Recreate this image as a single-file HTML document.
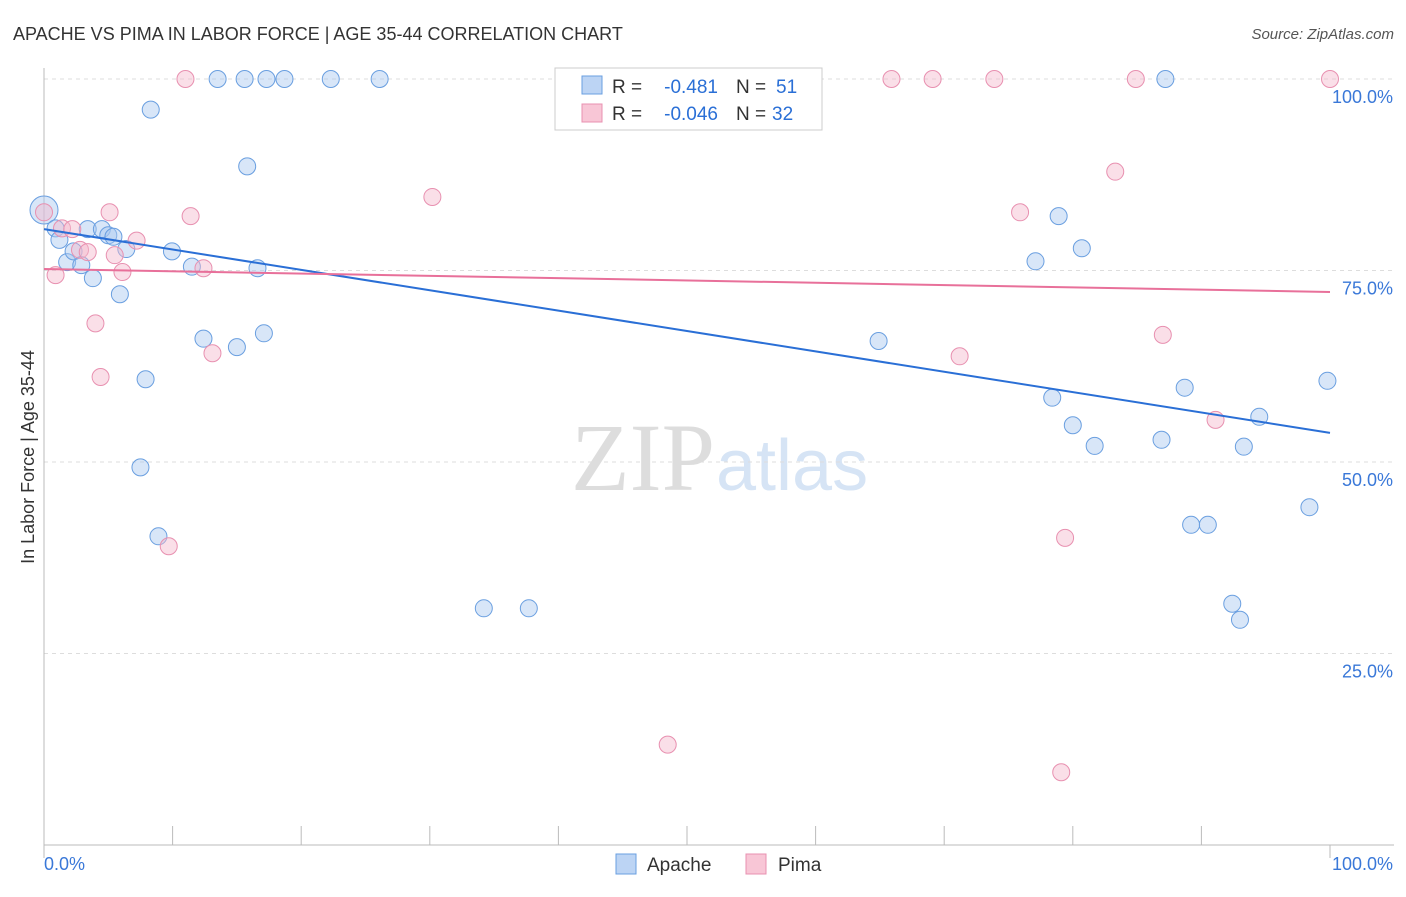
<!DOCTYPE html>
<html><head><meta charset="utf-8"><style>
body{margin:0;background:#fff;font-family:"Liberation Sans",sans-serif;}
</style></head><body>
<svg id="chart" width="1406" height="892" xmlns="http://www.w3.org/2000/svg">
<text x="13" y="40" font-size="18" fill="#333">APACHE VS PIMA IN LABOR FORCE | AGE 35-44 CORRELATION CHART</text>
<text x="1394" y="39" font-size="15" fill="#555" font-style="italic" text-anchor="end">Source: ZipAtlas.com</text>
<text x="715" y="490" font-size="96" fill="#ddd" text-anchor="end" font-family="Liberation Serif,serif">ZIP</text>
<text x="716" y="490" font-size="72" fill="#d6e4f5">atlas</text>
<g id="grid"></g>
<g id="axes"></g>
<text transform="translate(34,457) rotate(-90)" font-size="18" fill="#333" text-anchor="middle">In Labor Force | Age 35-44</text>
<g id="marks"></g>
<g>
<rect x="555" y="68" width="267" height="62" fill="#fff" stroke="#ccc"/>
<rect x="582" y="76" width="20" height="18" fill="#bcd4f4" stroke="#6a9fe0"/>
<text x="612" y="93" font-size="19" fill="#333">R =</text>
<text x="718" y="93" font-size="19" fill="#2a6fd6" text-anchor="end">-0.481</text>
<text x="736" y="93" font-size="19" fill="#333">N =</text>
<text x="776" y="93" font-size="19" fill="#2a6fd6">51</text>
<rect x="582" y="104" width="20" height="18" fill="#f8c6d6" stroke="#e890b0"/>
<text x="612" y="120" font-size="19" fill="#333">R =</text>
<text x="718" y="120" font-size="19" fill="#2a6fd6" text-anchor="end">-0.046</text>
<text x="736" y="120" font-size="19" fill="#333">N =</text>
<text x="772" y="120" font-size="19" fill="#2a6fd6">32</text>
</g>
<g>
<rect x="616" y="854" width="20" height="20" fill="#bcd4f4" stroke="#6a9fe0"/>
<text x="647" y="871" font-size="19" fill="#333">Apache</text>
<rect x="746" y="854" width="20" height="20" fill="#f8c6d6" stroke="#e890b0"/>
<text x="778" y="871" font-size="19" fill="#333">Pima</text>
</g>
</svg>
<script>
const yTicks=[25,50,75,100];
const yTickLabels=["25.0%","50.0%","75.0%","100.0%"];
const apacheX=[0,0.9,1.2,1.8,2.3,2.9,3.4,3.8,4.5,5.0,5.4,5.9,6.4,7.5,7.9,8.3,8.9,9.95,11.5,12.4,13.5,15.0,15.6,15.8,16.6,17.1,17.3,18.7,22.3,26.1,34.2,37.7,42.8,64.9,77.1,78.4,78.9,80.0,80.7,81.7,86.9,87.2,88.7,89.2,90.5,92.4,93.0,93.3,94.5,98.4,99.8];
const apacheY=[82.9,80.5,79.0,76.1,77.5,75.7,80.4,74.0,80.4,79.6,79.4,71.9,77.8,49.3,60.8,96.0,40.3,77.5,75.5,66.1,100,65.0,100,88.6,75.3,66.8,100,100,100,100,30.9,30.9,100,65.8,76.2,58.4,82.1,54.8,77.9,52.1,52.9,100,59.7,41.8,41.8,31.5,29.4,52.0,55.9,44.1,60.6];
const pimaX=[0,0.9,1.4,2.2,2.8,3.4,4.0,4.4,5.1,5.5,6.1,7.2,9.7,11.0,11.4,12.4,13.1,30.2,48.5,65.9,69.1,71.2,73.9,75.9,79.1,79.4,83.3,84.9,87.0,91.1,100];
const pimaY=[82.6,74.4,80.5,80.4,77.7,77.4,68.1,61.1,82.6,77.0,74.8,78.9,39.0,100,82.1,75.3,64.2,84.6,13.1,100,100,63.8,100,82.6,9.5,40.1,87.9,100,66.6,55.5,100];
const apacheTrend=[80.4,53.8];
const pimaTrend=[75.2,72.2];
const NS="http://www.w3.org/2000/svg";
const X0=44,X1=1330,Y0=845,Y100=79;
const xs=v=>X0+(X1-X0)*v/100;
const ys=v=>Y0-(Y0-Y100)*v/100;
function mk(tag,attrs,parent){const e=document.createElementNS(NS,tag);for(const k in attrs)e.setAttribute(k,attrs[k]);document.getElementById(parent).appendChild(e);return e;}
yTicks.forEach((t,i)=>{
 const g=mk('line',{x1:X0,x2:1394,y1:ys(t),y2:ys(t),stroke:'#ddd','stroke-dasharray':'4,4'},'grid');
 
 
 const l=mk('text',{x:1393,y:ys(t)+24,'font-size':18,fill:'#3a78d8','text-anchor':'end'},'grid');
 l.textContent=yTickLabels[i];
 
 
});
const ax=mk('line',{x1:X0,x2:1394,y1:Y0,y2:Y0,stroke:'#bbb'},'axes');


const ay=mk('line',{x1:X0,x2:X0,y1:68,y2:Y0,stroke:'#bbb'},'axes');


for(let i=0;i<=10;i++){
 const t=mk('line',{x1:xs(i*10),x2:xs(i*10),y1:Y0,y2:i%5==0?858:Y0-18,stroke:'#bbb'},'axes');
 if(i>0&&i<10){t.setAttribute('y1',826);t.setAttribute('y2',845);}
 
 
}
const xl0=mk('text',{x:44,y:870,'font-size':18,fill:'#3a78d8'},'axes');xl0.textContent='0.0%';


const xl1=mk('text',{x:1393,y:870,'font-size':18,fill:'#3a78d8','text-anchor':'end'},'axes');xl1.textContent='100.0%';


function pts(X,Y,fill,stroke,name){
 X.forEach((x,i)=>{
  const c=mk('circle',{cx:xs(x),cy:ys(Y[i]),r:(name=='apache-point'&&i==0)?14:8.5,fill:fill,'fill-opacity':0.45,stroke:stroke,'stroke-width':1},'marks');
  
  
 });
}
pts(apacheX,apacheY,'#a8c8f0','#6a9fe0','apache-point');
pts(pimaX,pimaY,'#f5b8cc','#e890b0','pima-point');
const tb=mk('line',{x1:xs(0),y1:ys(apacheTrend[0]),x2:xs(100),y2:ys(apacheTrend[1]),stroke:'#2a6fd6','stroke-width':2},'marks');


const tp=mk('line',{x1:xs(0),y1:ys(pimaTrend[0]),x2:xs(100),y2:ys(pimaTrend[1]),stroke:'#e8709a','stroke-width':2},'marks');


</script>
</body></html>
